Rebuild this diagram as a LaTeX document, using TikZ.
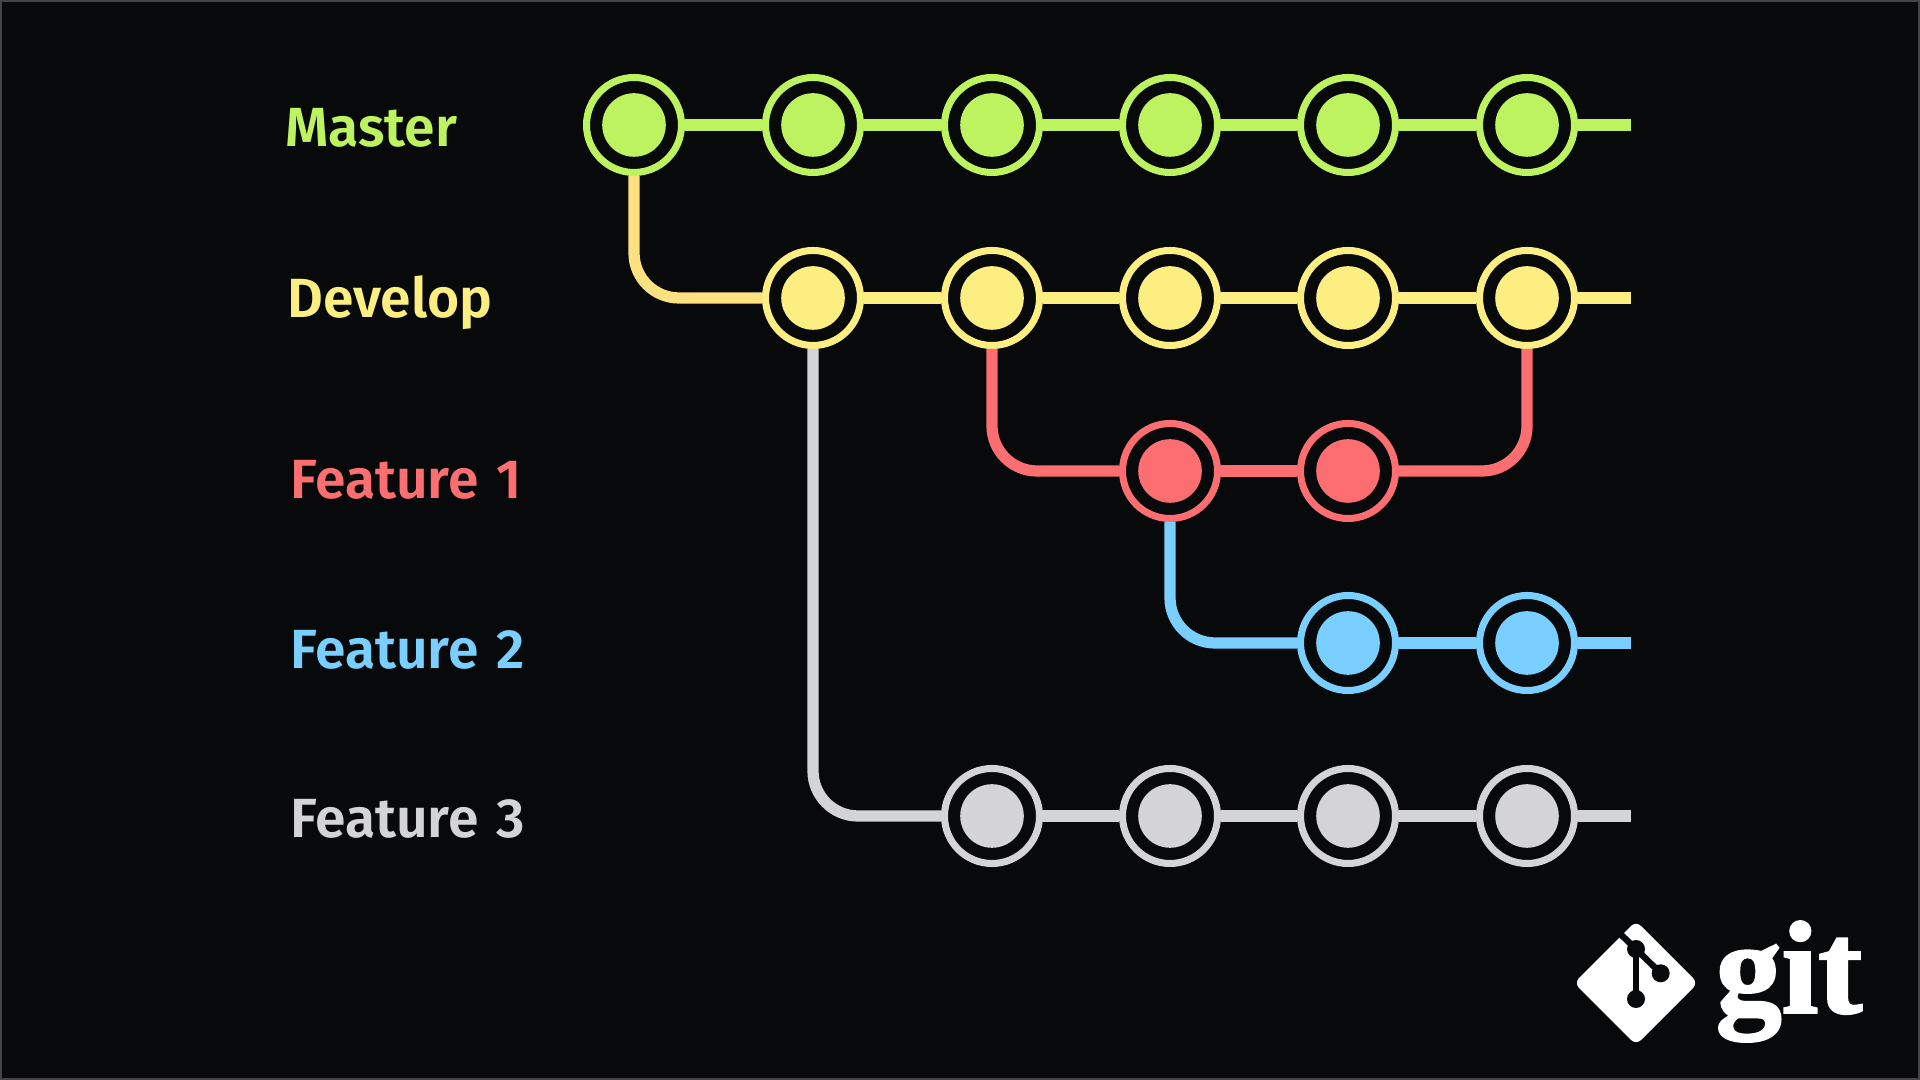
\documentclass[tikz,border=0pt]{standalone}
\usepackage{fontspec}
\setmainfont{Fira Sans}[BoldFont={Fira Sans SemiBold},WordSpace=1.3]
\newfontfamily\gitfont{Liberation Serif Bold}[FakeBold=1.8]
\usetikzlibrary{positioning,calc}
\definecolor{bgblack}{HTML}{08090B}
\definecolor{edgegrey}{HTML}{454547}
\definecolor{mastergreen}{HTML}{BCF35F}
\definecolor{devyellow}{HTML}{FDEE82}
\definecolor{branchyellow}{HTML}{FDE07F}
\definecolor{featred}{HTML}{FC6E70}
\definecolor{featblue}{HTML}{79CFFF}
\definecolor{featgrey}{HTML}{D4D4D8}
\tikzset{
    commit/.style={
        circle,
        draw=#1,
        fill=bgblack,
        line width=2pt,
        minimum size=0.95cm,
        inner sep=0pt,
        path picture={\fill[#1] (path picture bounding box.center) circle (0.318);}
    },
    branchname/.style={
        anchor=base west,
        inner sep=0pt,
        font=\bfseries\fontsize{15.7}{18}\selectfont,
        text=#1
    },
}

\begin{document}
\begin{tikzpicture}
\tikzstyle{link}=[line width=3.2pt]
\tikzstyle{turn}=[line width=3.2pt,rounded corners=0.45cm]
\useasboundingbox (0,0) rectangle (19.2,10.8);
\fill[bgblack,draw=edgegrey,line width=1pt] (0,0) rectangle (19.2,10.8);

%NAMES
\node [branchname=mastergreen] (namemaster) at (2.845,9.33) {Master};
\node [branchname=devyellow] (namedevelop) at (2.865,7.62) {Develop};
\node [branchname=featred] (namefeat1) at (2.895,5.81) {Feature 1};
\node [branchname=featblue] (namefeat2) at (2.895,4.11) {Feature 2};
\node [branchname=featgrey] (namefeat3) at (2.895,2.42) {Feature 3};

%%%%%%%%%%%%%%%%%%%%%%%%%%%%%%%%%%%%%%%%%%%%%%%%%%%%%%%%%%%%%%%%%%%%%%%%
%master
\node[commit=mastergreen] (master1) at (6.34,9.55) {};
\node[commit=mastergreen] (master2) at (8.13,9.55) {};
\node[commit=mastergreen] (master3) at (9.92,9.55) {};
\node[commit=mastergreen] (master4) at (11.70,9.55) {};
\node[commit=mastergreen] (master5) at (13.48,9.55) {};
\node[commit=mastergreen] (master6) at (15.27,9.55) {};
\coordinate (masterend) at (16.31,9.55);

%%%%%%%%%%%%%%%%%%%%%%%%%%%%%%%%%%%%%%%%%%%%%%%%%%%%%%%%%%%%%%%%%%%%%%%%
%develop
\node[commit=devyellow] (develop1) at (8.13,7.82) {};
\node[commit=devyellow] (develop2) at (9.92,7.82) {};
\node[commit=devyellow] (develop3) at (11.70,7.82) {};
\node[commit=devyellow] (develop4) at (13.48,7.82) {};
\node[commit=devyellow] (develop5) at (15.27,7.82) {};
\coordinate (developend) at (16.31,7.82);

%%%%%%%%%%%%%%%%%%%%%%%%%%%%%%%%%%%%%%%%%%%%%%%%%%%%%%%%%%%%%%%%%%%%%%%%
%features
%1
\node[commit=featred] (feat11) at (11.70,6.09) {};
\node[commit=featred] (feat12) at (13.48,6.09) {};
%2
\node[commit=featblue] (feat21) at (13.48,4.37) {};
\node[commit=featblue] (feat22) at (15.27,4.37) {};
\coordinate (feat2end) at (16.31,4.37);
%3
\node[commit=featgrey] (feat31) at (9.92,2.64) {};
\node[commit=featgrey] (feat32) at (11.70,2.64) {};
\node[commit=featgrey] (feat33) at (13.48,2.64) {};
\node[commit=featgrey] (feat34) at (15.27,2.64) {};
\coordinate (feat3end) at (16.31,2.64);

%%%%%%%%%%%%%%%%%%%%%%%%%%%%%%%%%%%%%%%%%%%%%%%%%%%%%%%%%%%%%%
%LINKS

%master
\draw[link,mastergreen] (master1) -- (master2);
\draw[link,mastergreen] (master2) -- (master3);
\draw[link,mastergreen] (master3) -- (master4);
\draw[link,mastergreen] (master4) -- (master5);
\draw[link,mastergreen] (master5) -- (master6);
\draw[link,mastergreen] (master6) -- (masterend);

%develop
\draw[turn,branchyellow] (master1) |- (develop1);
\draw[link,devyellow] (develop1) -- (develop2);
\draw[link,devyellow] (develop2) -- (develop3);
\draw[link,devyellow] (develop3) -- (develop4);
\draw[link,devyellow] (develop4) -- (develop5);
\draw[link,devyellow] (develop5) -- (developend);

%feature 1
\draw[turn,featred] (develop2) |- (feat11);
\draw[link,featred] (feat11) -- (feat12);
\draw[turn,featred] (feat12) -| (develop5);

%feature 2
\draw[turn,featblue] (feat11) |- (feat21);
\draw[link,featblue] (feat21) -- (feat22);
\draw[link,featblue] (feat22) -- (feat2end);

%feature 3
\draw[turn,featgrey] (develop1) |- (feat31);
\draw[link,featgrey] (feat31) -- (feat32);
\draw[link,featgrey] (feat32) -- (feat33);
\draw[link,featgrey] (feat33) -- (feat34);
\draw[link,featgrey] (feat34) -- (feat3end);

%%%%%%%%%%%%%%%%%%%%%%%%%%%%%%%%%%%%%%%%%%%%%%%%%%%%%%%%%%%%%%
%LOGO
\fill[white,rounded corners=0.07cm] (16.36,0.35) -- (16.98,0.97) -- (16.36,1.59) -- (15.74,0.97) -- cycle;
\draw[line width=1.8pt,bgblack] (16.14,1.52) -- (16.36,1.31) -- (16.607,1.067);
\draw[line width=1.8pt,bgblack] (16.36,1.31) -- (16.36,0.81);
\fill[bgblack] (16.36,1.31) circle (0.09);
\fill[bgblack] (16.607,1.067) circle (0.09);
\fill[bgblack] (16.36,0.81) circle (0.09);
\node [font=\gitfont\fontsize{37.5}{44}\selectfont,text=white,anchor=base west,inner sep=0pt] (gitword) at (17.15,0.673) {git};

\end{tikzpicture}
\end{document}
